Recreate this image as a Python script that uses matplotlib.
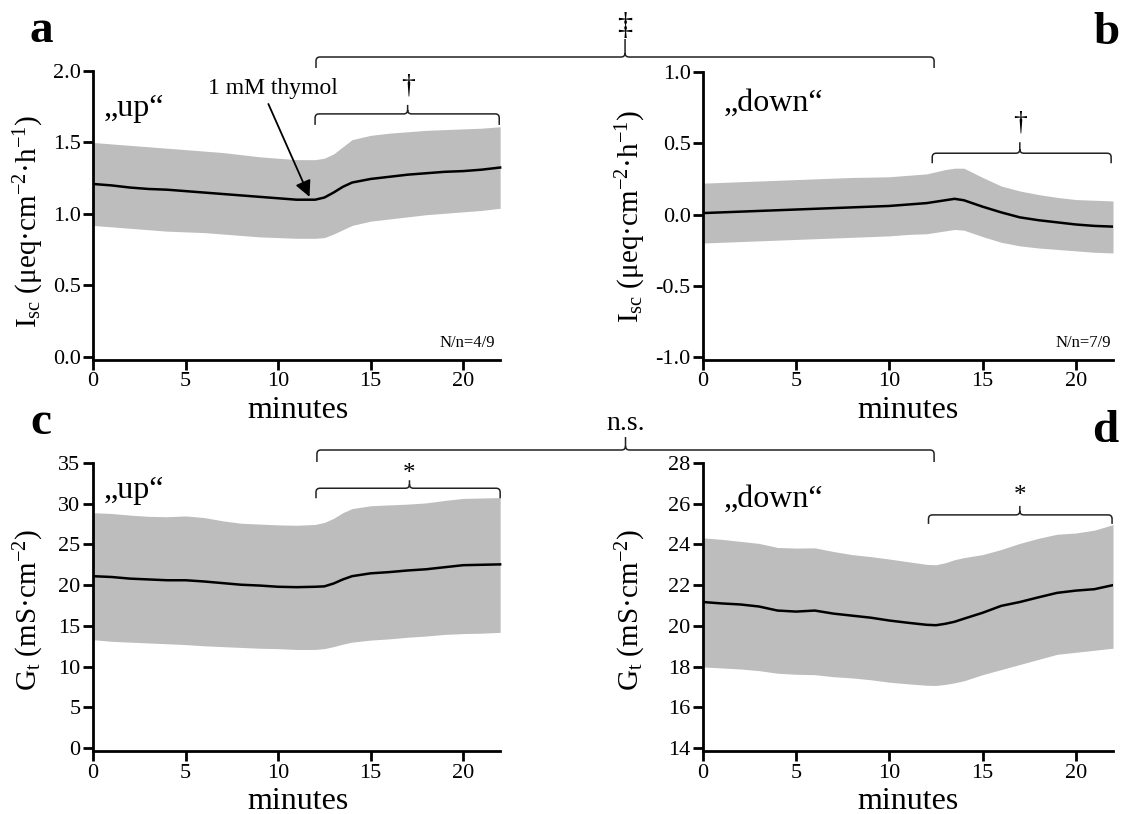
import matplotlib
matplotlib.use('Agg')
import matplotlib.pyplot as plt
from matplotlib.path import Path
from matplotlib.patches import PathPatch
import numpy as np

plt.rcParams['font.family'] = ['Liberation Serif', 'DejaVu Serif']
plt.rcParams['mathtext.fontset'] = 'custom'
plt.rcParams['mathtext.rm'] = 'Liberation Serif'
plt.rcParams['mathtext.it'] = 'Liberation Serif:italic'

# time points (minutes)
minutes = [0, 1, 2, 3, 4, 5, 6, 7, 8, 9, 10, 11, 12, 12.5, 13, 13.5, 14,
           15, 16, 17, 18, 19, 20, 21, 22]

# a: Isc "up"
isc_up_mean = [1.21, 1.20, 1.185, 1.175, 1.17, 1.16, 1.15, 1.14, 1.13, 1.12, 1.11, 1.10, 1.10,
               1.115, 1.15, 1.19, 1.22, 1.245, 1.26, 1.275, 1.285, 1.295, 1.30, 1.31, 1.325]
isc_up_hi = [1.50, 1.49, 1.48, 1.47, 1.46, 1.45, 1.44, 1.43, 1.415, 1.40, 1.39, 1.38, 1.38,
             1.39, 1.42, 1.47, 1.52, 1.55, 1.565, 1.575, 1.585, 1.59, 1.595, 1.60, 1.61]
isc_up_lo = [0.92, 0.91, 0.90, 0.89, 0.88, 0.875, 0.87, 0.86, 0.85, 0.84, 0.835, 0.83, 0.83,
             0.835, 0.86, 0.89, 0.92, 0.95, 0.965, 0.98, 0.995, 1.005, 1.015, 1.025, 1.04]

# b: Isc "down"
isc_down_mean = [0.01, 0.015, 0.02, 0.025, 0.03, 0.035, 0.04, 0.045, 0.05, 0.055, 0.06, 0.07, 0.08,
                 0.09, 0.10, 0.11, 0.10, 0.055, 0.015, -0.02, -0.04, -0.055, -0.07, -0.08, -0.085]
isc_down_hi = [0.22, 0.225, 0.23, 0.235, 0.24, 0.245, 0.25, 0.255, 0.26, 0.262, 0.265, 0.275, 0.285,
               0.30, 0.315, 0.325, 0.325, 0.26, 0.20, 0.165, 0.14, 0.12, 0.105, 0.10, 0.095]
isc_down_lo = [-0.20, -0.195, -0.19, -0.185, -0.18, -0.175, -0.17, -0.165, -0.16, -0.155, -0.15, -0.14, -0.135,
               -0.125, -0.115, -0.105, -0.11, -0.155, -0.195, -0.22, -0.235, -0.245, -0.255, -0.265, -0.27]

# c: Gt "up"
gt_up_mean = [21.1, 21.0, 20.8, 20.7, 20.6, 20.6, 20.45, 20.25, 20.05, 19.95, 19.8, 19.75, 19.8,
              19.85, 20.2, 20.7, 21.1, 21.45, 21.6, 21.8, 21.95, 22.2, 22.45, 22.5, 22.55]
gt_up_hi = [28.9, 28.8, 28.6, 28.45, 28.4, 28.5, 28.3, 27.9, 27.6, 27.5, 27.4, 27.35, 27.45,
            27.7, 28.2, 28.9, 29.4, 29.75, 29.85, 29.95, 30.1, 30.4, 30.65, 30.7, 30.75]
gt_up_lo = [13.3, 13.1, 13.0, 12.9, 12.8, 12.7, 12.55, 12.45, 12.35, 12.25, 12.2, 12.1, 12.1,
            12.2, 12.45, 12.75, 13.0, 13.25, 13.4, 13.6, 13.75, 13.95, 14.05, 14.1, 14.2]

# d: Gt "down"
gt_down_mean = [21.17, 21.1, 21.05, 20.95, 20.75, 20.7, 20.75, 20.6, 20.5, 20.4, 20.26, 20.15, 20.05,
                20.03, 20.1, 20.2, 20.35, 20.64, 20.98, 21.17, 21.4, 21.62, 21.73, 21.8, 22.0]
gt_down_hi = [24.32, 24.25, 24.15, 24.05, 23.85, 23.82, 23.83, 23.65, 23.5, 23.4, 23.28, 23.15, 23.02,
              23.0, 23.1, 23.25, 23.35, 23.5, 23.75, 24.05, 24.3, 24.5, 24.56, 24.7, 24.97]
gt_down_lo = [17.98, 17.93, 17.88, 17.8, 17.67, 17.62, 17.6, 17.5, 17.44, 17.35, 17.23, 17.15, 17.08,
              17.07, 17.12, 17.2, 17.3, 17.6, 17.85, 18.1, 18.35, 18.6, 18.7, 18.8, 18.9]

W, H = 1127, 814
fig = plt.figure(figsize=(W / 100, H / 100), dpi=100)

isc_label = r'I$_{\mathrm{sc}}$ (μeq·cm$^{\mathrm{-2}}$·h$^{\mathrm{-1}}$)'
gt_label = r'G$_{\mathrm{t}}$ (mS·cm$^{\mathrm{-2}}$)'


def make_panel(rect, mean, hi, lo, xlim, ylim, yticks, yfmt, ylabel, tag, ylab_xy, tag_xy):
    ax = fig.add_axes(rect)
    ax.fill_between(minutes, lo, hi, color='#bdbdbd', lw=0)
    ax.plot(minutes, mean, color='black', lw=1.8)
    ax.set_xlim(*xlim)
    ax.set_ylim(*ylim)
    ax.set_xticks([0, 5, 10, 15, 20])
    ax.set_yticks(yticks)
    ax.set_yticklabels([yfmt.format(v) for v in yticks])
    ax.spines['top'].set_visible(False)
    ax.spines['right'].set_visible(False)
    for s in ['left', 'bottom']:
        ax.spines[s].set_linewidth(2)
    ax.spines['left'].set_bounds(ylim[0], yticks[-1])
    ax.spines['bottom'].set_bounds(0, 22)
    ax.tick_params(labelsize=16, length=7, width=2, pad=2, direction='out')
    ax.set_xlabel('minutes', fontsize=23, labelpad=3)
    ax.set_ylabel(ylabel, fontsize=21, va='center')
    ax.yaxis.set_label_coords(*ylab_xy)
    ax.text(tag_xy[0], tag_xy[1], tag, transform=ax.transAxes, fontsize=23, ha='left', va='center')
    return ax


ax_a = make_panel([93 / W, 1 - 360 / H, 409 / W, 289 / H], isc_up_mean, isc_up_hi, isc_up_lo,
                  (0, 22.1), (-0.021, 2.0), [0.0, 0.5, 1.0, 1.5, 2.0], '{:.1f}', isc_label,
                  '„up“', (-0.156, 0.48), (0.025, 0.87))
ax_b = make_panel([703 / W, 1 - 360 / H, 410 / W, 288 / H], isc_down_mean, isc_down_hi, isc_down_lo,
                  (0, 22), (-1.021, 1.0), [-1.0, -0.5, 0.0, 0.5, 1.0], '{:.1f}', isc_label,
                  '„down“', (-0.176, 0.5), (0.05, 0.89))
ax_c = make_panel([93 / W, 1 - 751 / H, 409 / W, 288 / H], gt_up_mean, gt_up_hi, gt_up_lo,
                  (0, 22.1), (-0.37, 35), [0, 5, 10, 15, 20, 25, 30, 35], '{:d}', gt_label,
                  '„up“', (-0.156, 0.49), (0.025, 0.905))
ax_d = make_panel([703 / W, 1 - 751 / H, 410 / W, 288 / H], gt_down_mean, gt_down_hi, gt_down_lo,
                  (0, 22), (13.85, 28), [14, 16, 18, 20, 22, 24, 26, 28], '{:d}', gt_label,
                  '„down“', (-0.176, 0.49), (0.05, 0.875))

# n numbers
ax_a.text(21.7, 0.1, 'N/n=4/9', fontsize=12, ha='right', va='center')
ax_b.text(21.9, -0.9, 'N/n=7/9', fontsize=12, ha='right', va='center')

# thymol arrow
ax_a.annotate('1 mM thymol', xy=(11.7, 1.12), xytext=(9.7, 1.88), fontsize=17,
              ha='center', va='center',
              arrowprops=dict(arrowstyle='-|>', color='black', lw=1.3, mutation_scale=24,
                              shrinkA=2, shrinkB=0, relpos=(0.45, 0.0)))

# panel letters
fig.text(41 / W, 1 - 42 / H, 'a', fontsize=34, fontweight='bold', ha='center', va='baseline')
fig.text(1107 / W, 1 - 44 / H, 'b', fontsize=34, fontweight='bold', ha='center', va='baseline')
fig.text(41 / W, 1 - 434 / H, 'c', fontsize=34, fontweight='bold', ha='center', va='baseline')
fig.text(1105 / W, 1 - 442 / H, 'd', fontsize=34, fontweight='bold', ha='center', va='baseline')


def brace(x0, x1, xm, y, drop, tip, label, lsize, lgap, r=4):
    # x0, x1, xm, y in display pixels
    verts = [(x0, y - drop), (x0, y - r), (x0, y), (x0 + r, y),
             (xm - r, y), (xm, y), (xm, y + r), (xm, y + tip),
             (xm, y + r), (xm, y), (xm + r, y),
             (x1 - r, y), (x1, y), (x1, y - r), (x1, y - drop)]
    codes = [Path.MOVETO, Path.LINETO, Path.CURVE3, Path.CURVE3,
             Path.LINETO, Path.CURVE3, Path.CURVE3, Path.LINETO,
             Path.MOVETO, Path.CURVE3, Path.CURVE3,
             Path.LINETO, Path.CURVE3, Path.CURVE3, Path.LINETO]
    pts = fig.transFigure.inverted().transform(verts)
    fig.patches.append(PathPatch(Path(pts, codes), transform=fig.transFigure,
                                 fill=False, ec='#222222', lw=1.1))
    lx, ly = fig.transFigure.inverted().transform((xm, y + tip + lgap))
    fig.text(lx, ly, label, fontsize=lsize, ha='center', va='center')


def px(ax, x, y):
    return ax.transData.transform((x, y))


# small braces inside panels
x0, y0 = px(ax_a, 12.0, 1.70)
brace(x0, px(ax_a, 21.95, 0)[0], px(ax_a, 17.0, 0)[0], y0, 11, 9, '†', 20, 19)
x0, y0 = px(ax_b, 12.3, 0.43)
brace(x0, px(ax_b, 21.9, 0)[0], px(ax_b, 17.0, 0)[0], y0, 10, 11, '†', 20, 19)
x0, y0 = px(ax_c, 12.05, 31.9)
brace(x0, px(ax_c, 22.0, 0)[0], px(ax_c, 17.1, 0)[0], y0, 10, 8, '*', 18, 6)
x0, y0 = px(ax_d, 12.1, 25.45)
brace(x0, px(ax_d, 21.95, 0)[0], px(ax_d, 17.0, 0)[0], y0, 9, 9, '*', 18, 10)

# large braces across panels
top_a = ax_a.transAxes.transform((0, 1))[1]
xl = px(ax_a, 12.05, 0)[0]
xr = px(ax_b, 12.4, 0)[0]
brace(xl, xr, (xl + xr) / 2, top_a + 14, 11, 18, '‡', 22, 12)
top_c = ax_c.transAxes.transform((0, 1))[1]
xl = px(ax_c, 12.1, 0)[0]
xr = px(ax_d, 12.4, 0)[0]
brace(xl, xr, (xl + xr) / 2, top_c + 13, 12, 13, 'n.s.', 20, 14)

fig.savefig('out.png', dpi=100)
